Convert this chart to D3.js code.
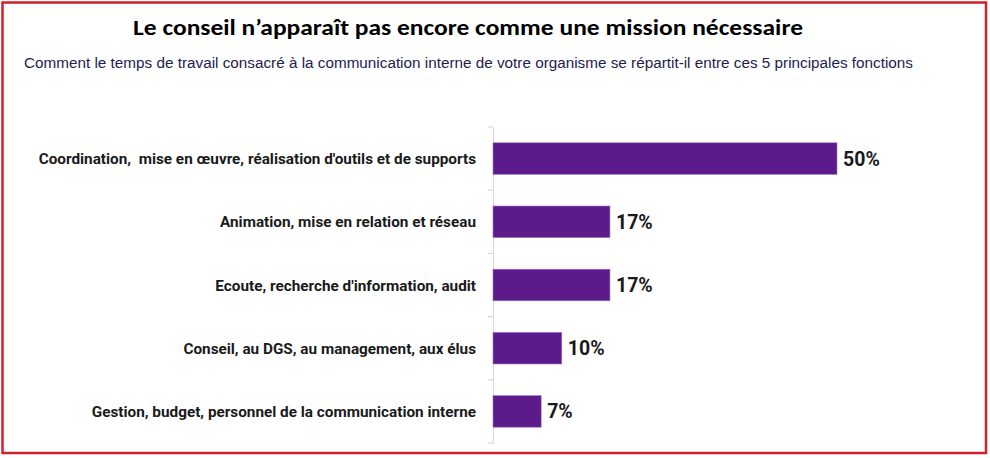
<!DOCTYPE html>
<html>
<head>
<meta charset="utf-8">
<script src="https://cdn.jsdelivr.net/npm/d3@7/dist/d3.min.js"></script>
<style>
  html, body { margin: 0; padding: 0; background: #fff; }
  svg { display: block; }
</style>
</head>
<body>
<svg id="chart" width="990" height="458"></svg>
<script>
const titleText = "Le conseil n\u2019appara\u00eet pas encore comme une mission n\u00e9cessaire";
const subtitleText = "Comment le temps de travail consacr\u00e9 \u00e0 la communication interne de votre organisme se r\u00e9partit-il entre ces 5 principales fonctions";
const categories = [
  "Coordination,  mise en \u0153uvre, r\u00e9alisation d'outils et de supports",
  "Animation, mise en relation et r\u00e9seau",
  "Ecoute, recherche d'information, audit",
  "Conseil, au DGS, au management, aux \u00e9lus",
  "Gestion, budget, personnel de la communication interne"
];
const values = [50, 17, 17, 10, 7];
const valueLabels = ["50%", "17%", "17%", "10%", "7%"];

const svg = d3.select("#chart");

// frame
svg.append("rect")
  .attr("x", 2.5).attr("y", 2.5)
  .attr("width", 983.5).attr("height", 450.5)
  .attr("fill", "#fff")
  .attr("stroke", "#d0202a")
  .attr("stroke-width", 2.5);

// title
svg.append("text")
  .attr("x", 133).attr("y", 35)
  .attr("font-family", "Carlito, 'Liberation Sans Narrow', 'Open Sans', sans-serif")
  .attr("font-weight", "bold")
  .attr("font-size", 23)
  .attr("fill", "#000")
  .attr("textLength", 670)
  .attr("lengthAdjust", "spacingAndGlyphs")
  .text(titleText);

// subtitle
svg.append("text")
  .attr("x", 24).attr("y", 68)
  .attr("font-family", "'Liberation Sans', Arial, sans-serif")
  .attr("font-size", 14)
  .attr("fill", "#231c4f")
  .attr("textLength", 889)
  .attr("lengthAdjust", "spacingAndGlyphs")
  .text(subtitleText);

const x0 = 493, y0 = 127, y1 = 443;
const x = d3.scaleLinear().domain([0, 50]).range([x0, 837]);
const y = d3.scaleBand().domain(categories).range([y0, y1]).paddingInner(0.5).paddingOuter(0.25);

// axis
const axis = d3.axisLeft(y).tickSize(0).tickFormat("");
const gAxis = svg.append("g").attr("transform", `translate(${x0},0)`).call(axis);
gAxis.select(".domain").attr("stroke", "#d9d9d9").attr("stroke-width", 1.2);
// boundary ticks between bands
const boundaries = d3.range(categories.length + 1).map(i => y0 + i * (y1 - y0) / categories.length);
svg.append("g").selectAll("line").data(boundaries).join("line")
  .attr("x1", x0 - 5).attr("x2", x0)
  .attr("y1", d => d).attr("y2", d => d)
  .attr("stroke", "#d9d9d9").attr("stroke-width", 1.2);

// bars
svg.append("g").selectAll("rect").data(categories).join("rect")
  .attr("x", x0)
  .attr("y", d => y(d))
  .attr("width", (d, i) => x(values[i]) - x0)
  .attr("height", y.bandwidth())
  .attr("fill", "#5c1a8b")
  .attr("stroke", "#9a7cc2")
  .attr("stroke-width", 0.6);

// category labels
svg.append("g").selectAll("text").data(categories).join("text")
  .attr("x", 476)
  .attr("y", d => y(d) + y.bandwidth() / 2)
  .attr("dy", "0.36em")
  .attr("text-anchor", "end")
  .attr("font-family", "Roboto, 'Liberation Sans', sans-serif")
  .attr("font-weight", "bold")
  .attr("font-size", 15.3)
  .attr("fill", "#1a1a1a")
  .style("white-space", "pre")
  .text(d => d);

// value labels
svg.append("g").selectAll("text").data(categories).join("text")
  .attr("x", (d, i) => x(values[i]) + 6)
  .attr("y", d => y(d) + y.bandwidth() / 2)
  .attr("dy", "0.36em")
  .attr("font-family", "Roboto, 'Liberation Sans', sans-serif")
  .attr("font-weight", "bold")
  .attr("font-size", 19.5)
  .attr("fill", "#1a1a1a")
  .text((d, i) => valueLabels[i]);
</script>
</body>
</html>
